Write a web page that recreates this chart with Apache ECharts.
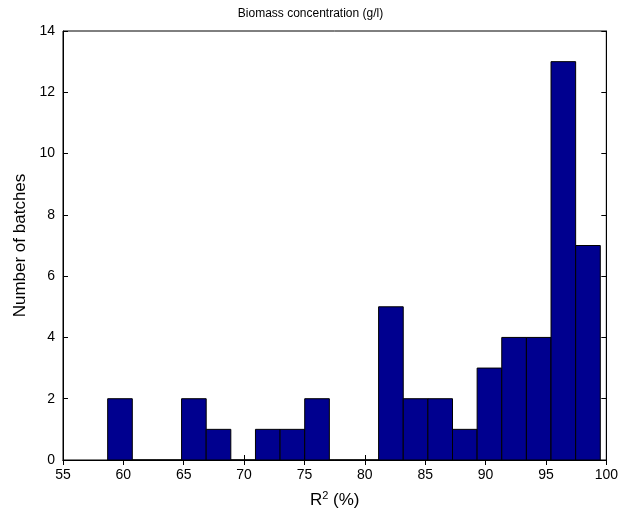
<!DOCTYPE html>
<html>
<head>
<meta charset="utf-8">
<script src="https://cdn.jsdelivr.net/npm/echarts@6/dist/echarts.min.js"></script>
<style>html,body{margin:0;padding:0;background:#fff}#chart{width:621px;height:521px}</style>
</head>
<body>
<div id="chart"></div>
<script>
// histogram bins (left edge of each bin) and counts
var binStarts=[58.7,60.74,62.78,64.82,66.86,68.9,70.94,72.98,75.02,77.06,79.1,81.14,83.18,85.22,87.26,89.3,91.34,93.38,95.42,97.46];
var binWidth=2.04;
var counts=[2,0,0,2,1,0,1,1,2,0,0,5,2,2,1,3,4,4,13,7];

var chart=echarts.init(document.getElementById('chart'));
var data=binStarts.map(function(s,i){return [s,s+binWidth,counts[i]];});
var tickStyle={inside:true,length:5,lineStyle:{color:'#000'}};

chart.setOption({
  animation:false,
  textStyle:{fontFamily:'Liberation Sans, Arial'},
  title:{text:'Biomass concentration (g/l)',left:'center',top:3,
    textStyle:{fontSize:12,fontWeight:'normal',color:'#000'}},
  grid:{left:63,right:14,top:31,bottom:61,show:true,borderColor:'#000',borderWidth:1},
  xAxis:[{type:'value',min:55,max:100,interval:5,
    name:'{a|R}{s|2}{a| (%)}',nameLocation:'middle',nameGap:30,
    nameTextStyle:{rich:{a:{fontSize:17,color:'#000'},s:{fontSize:11,color:'#000',verticalAlign:'top',padding:[0,0,10,0]}}},
    axisLine:{lineStyle:{color:'#000'}},axisTick:tickStyle,
    axisLabel:{fontSize:14,color:'#000'},splitLine:{show:false}},
    {type:'value',position:'top',min:55,max:100,interval:5,axisLine:{show:true,lineStyle:{color:'#000'}},
    axisTick:tickStyle,axisLabel:{show:false},splitLine:{show:false}}],
  yAxis:[{type:'value',min:0,max:14,interval:2,
    name:'Number of batches',nameLocation:'middle',nameGap:32,
    nameTextStyle:{fontSize:17,color:'#000'},
    axisLine:{show:true,lineStyle:{color:'#000'}},axisTick:{show:true,inside:true,length:5,lineStyle:{color:'#000'}},
    axisLabel:{fontSize:14,color:'#000'},splitLine:{show:false}},
    {type:'value',position:'right',min:0,max:14,interval:2,axisLine:{show:true,lineStyle:{color:'#000'}},
    axisTick:{show:true,inside:true,length:5,lineStyle:{color:'#000'}},axisLabel:{show:false},splitLine:{show:false}}],
  series:[{
    type:'custom',
    data:data,
    renderItem:function(params,api){
      var p0=api.coord([api.value(0),api.value(2)]);
      var p1=api.coord([api.value(1),0]);
      return {type:'rect',shape:{x:p0[0],y:p0[1],width:p1[0]-p0[0],height:p1[1]-p0[1]},
        style:{fill:'#00008f',stroke:'#000',lineWidth:1}};
    },
    encode:{x:[0,1],y:2}
  }]
});
</script>
</body>
</html>
